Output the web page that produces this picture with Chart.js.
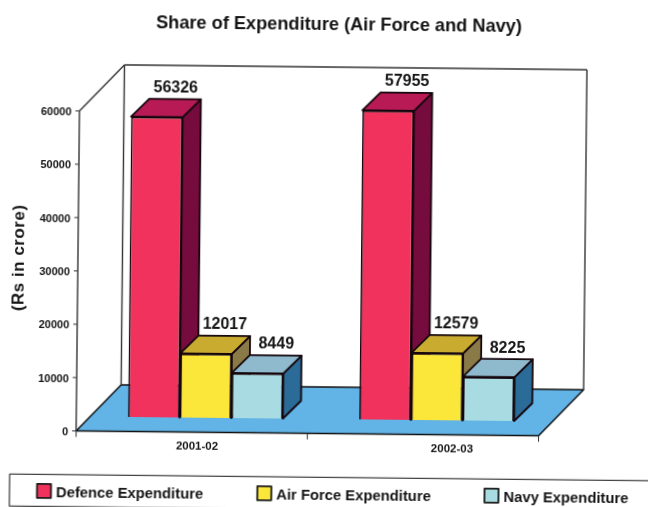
<!DOCTYPE html>
<html>
<head>
<meta charset="utf-8">
<title>Share of Expenditure</title>
<style>
  html, body { margin: 0; padding: 0; background: #fff; overflow: hidden; height: 507px; }
  /* the whole printed figure sits very slightly askew */
  #chart { display: block; transform: rotate(0.6deg); transform-origin: 324px 253.5px; }
</style>
<script src="https://cdn.jsdelivr.net/npm/chart.js@4/dist/chart.umd.min.js"></script>
</head>
<body>
<canvas id="chart" width="660" height="525"></canvas>
<script>
const years = ["2001-02", "2002-03"];
const defence = [56326, 57955];
const airForce = [12017, 12579];
const navy = [8449, 8225];
const yTicks = [0, 10000, 20000, 30000, 40000, 50000, 60000];

const FONT = '"Liberation Sans", Arial, sans-serif';
const INK = "#151515";

// depth of a bar, and how far its front sits behind the axis plane
const barDepth = { x: 18, y: 18 };
const inset = { x: 13.5, y: 14.5 };
const floorDepth = { x: 44.5, y: 46.5 };

// side and top shades per dataset
const faces = [
    { side: "#760c3e", top: "#b81a55" },
    { side: "#8a7a48", top: "#c9ab30" },
    { side: "#2b6b98", top: "#8fb9cc" }
];

// swatch centre for each legend entry
const legendX = [46.5, 266.8, 494];

function text(ctx, str, x, y, font, opts = {}) {
    ctx.save();
    ctx.translate(x, y);
    if (opts.rotate) ctx.rotate(opts.rotate);
    if (opts.spacing) ctx.letterSpacing = opts.spacing;
    ctx.font = font;
    ctx.fillStyle = INK;
    ctx.textAlign = opts.align || "center";
    ctx.textBaseline = "middle";
    ctx.fillText(str, 0, 0);
    ctx.restore();
}

function poly(ctx, pts, fill, stroke, width) {
    ctx.beginPath();
    pts.forEach((p, i) => i ? ctx.lineTo(p[0], p[1]) : ctx.moveTo(p[0], p[1]));
    ctx.closePath();
    if (fill) { ctx.fillStyle = fill; ctx.fill(); }
    if (stroke) { ctx.strokeStyle = stroke; ctx.lineWidth = width; ctx.lineJoin = "round"; ctx.stroke(); }
}

function line(ctx, x1, y1, x2, y2, color, width) {
    ctx.beginPath();
    ctx.moveTo(x1, y1);
    ctx.lineTo(x2, y2);
    ctx.strokeStyle = color;
    ctx.lineWidth = width;
    ctx.stroke();
}

const box3d = {
    id: "box3d",
    beforeDatasetsDraw(chart) {
        const { ctx, chartArea: a, scales: { y } } = chart;
        const left = a.left - inset.x, right = a.right - inset.x;
        const zero = y.getPixelForValue(0) + inset.y;
        const top = y.getPixelForValue(60000) + inset.y;
        const dx = floorDepth.x, dy = floorDepth.y;

        // floor
        poly(ctx, [[left, zero], [right, zero], [right + dx, zero - dy], [left + dx, zero - dy]], "#62b3e6", "#111", 1.5);

        // walls
        line(ctx, left, zero, left, top, "#333", 1.4);
        line(ctx, left, top, left + dx, top - dy, "#333", 1.4);
        line(ctx, left + dx, top - dy, left + dx, zero - dy, "#333", 1.4);
        line(ctx, left + dx, top - dy, right + dx, top - dy, "#333", 1.4);
        line(ctx, right + dx, top - dy, right + dx, zero - dy, "#333", 1.4);

        // tick marks on the front axes
        yTicks.forEach(v => {
            const py = y.getPixelForValue(v) + inset.y;
            line(ctx, left - 4, py, left, py, "#333", 1);
        });
        [0, 1, 2].forEach(i => {
            const px = left + (right - left) * i / 2;
            line(ctx, px, zero, px, zero + 6, "#333", 1);
        });

        // side and top of each bar, left to right so later tops cover earlier sides
        chart.data.datasets.forEach((ds, i) => {
            chart.getDatasetMeta(i).data.forEach(bar => {
                const l = bar.x - bar.width / 2, r = bar.x + bar.width / 2;
                const t = bar.y, b = bar.base;
                const ddx = barDepth.x, ddy = barDepth.y;
                poly(ctx, [[r, b], [r, t], [r + ddx, t - ddy], [r + ddx, b - ddy]], faces[i].side, "#14060c", 1.8);
                poly(ctx, [[l, t], [r, t], [r + ddx, t - ddy], [l + ddx, t - ddy]], faces[i].top, "#14060c", 1.8);
            });
        });
    },
    afterDatasetsDraw(chart) {
        const { ctx, scales: { x } } = chart;

        // value labels above each bar
        chart.data.datasets.forEach((ds, i) => {
            chart.getDatasetMeta(i).data.forEach((bar, j) => {
                text(ctx, String(ds.data[j]), bar.x + 18.5, bar.y - 29, "bold 16px " + FONT);
            });
        });

        // category names
        const nudges = [5.4, 29.1];
        years.forEach((name, j) => {
            text(ctx, name, x.getPixelForTick(j) - inset.x + nudges[j], 448, "bold 11.5px " + FONT);
        });

        text(ctx, "Share of Expenditure (Air Force and Navy)", 336.6, 25, "bold 18.2px " + FONT);
        text(ctx, "(Rs in crore)", 19, 261, "bold 17px " + FONT, { rotate: -Math.PI / 2, spacing: "0.5px" });

        // legend frame and entries
        ctx.strokeStyle = "#444";
        ctx.lineWidth = 1.3;
        ctx.strokeRect(12, 477.3, 720, 32);
        chart.data.datasets.forEach((ds, i) => {
            const cx = legendX[i], cy = 493.8;
            poly(ctx, [[cx - 7, cy - 7], [cx + 7, cy - 7], [cx + 7, cy + 7], [cx - 7, cy + 7]], ds.backgroundColor, "#1a1a1a", 1.8);
            text(ctx, ds.label, cx + 12, 495.6, "bold 14.8px " + FONT, { align: "left" });
        });
    }
};

new Chart(document.getElementById("chart"), {
    type: "bar",
    data: {
        labels: years,
        datasets: [
            { label: "Defence Expenditure", data: defence, backgroundColor: "#f0325c", borderColor: "#14060c", borderWidth: 1.8 },
            { label: "Air Force Expenditure", data: airForce, backgroundColor: "#fbe73a", borderColor: "#14060c", borderWidth: 1.8 },
            { label: "Navy Expenditure", data: navy, backgroundColor: "#a9dce2", borderColor: "#14060c", borderWidth: 1.8 }
        ]
    },
    options: {
        responsive: false,
        animation: false,
        datasets: { bar: { categoryPercentage: 0.67, barPercentage: 1 } },
        layout: { padding: { top: 99, bottom: 0 } },
        plugins: {
            title: { display: false },
            tooltip: { enabled: false },
            legend: { display: false }
        },
        scales: {
            x: {
                grid: { display: false, drawTicks: false },
                border: { display: false },
                ticks: { display: false },
                afterFit(s) { s.height = 106; }
            },
            y: {
                min: 0,
                max: 60000,
                grid: { display: false, drawTicks: false },
                border: { display: false },
                ticks: {
                    stepSize: 10000,
                    padding: 21.5,
                    labelOffset: inset.y + 1.5,
                    color: INK,
                    font: { family: FONT, size: 11, weight: "bold" },
                    callback: v => String(v)
                },
                afterFit(s) { s.width = 91.5; }
            },
            // empty axis that only reserves the margin right of the plot
            margin: {
                position: "right",
                grid: { display: false, drawTicks: false },
                border: { display: false },
                ticks: { display: false },
                afterFit(s) { s.width = 106; }
            }
        }
    },
    plugins: [box3d]
});
</script>
</body>
</html>
